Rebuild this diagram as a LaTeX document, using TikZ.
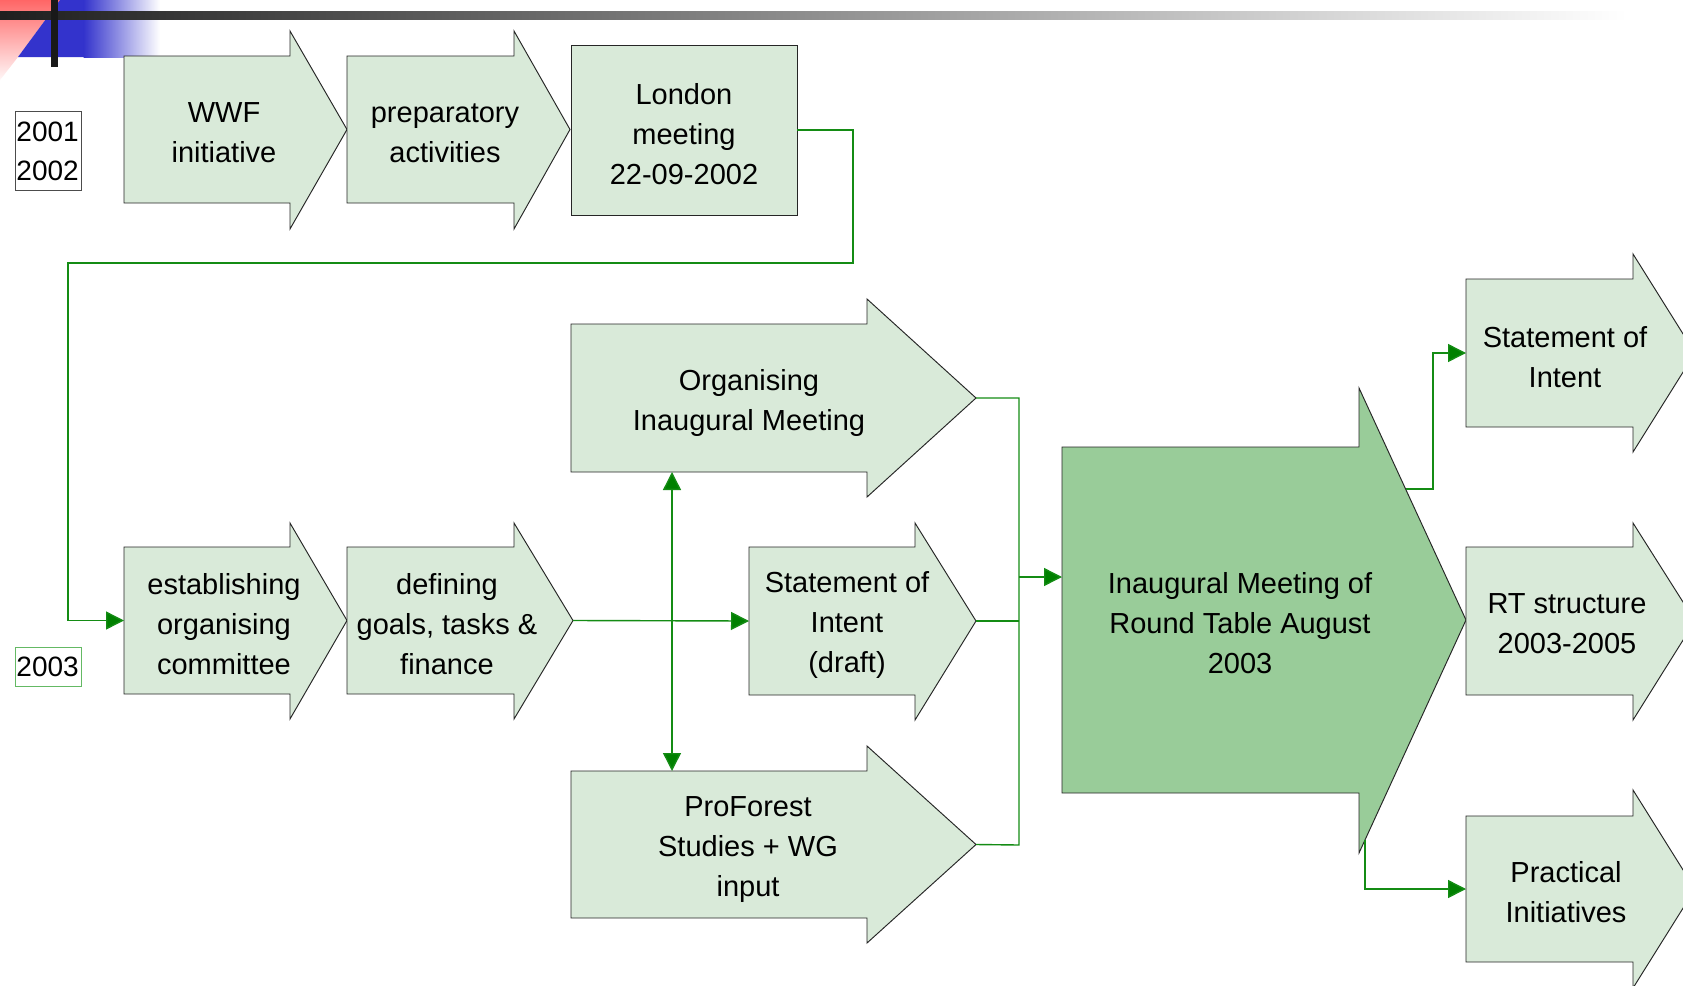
\documentclass[tikz,border=0pt]{standalone}
\usepackage{fontspec}
\setmainfont{Liberation Sans}
\usetikzlibrary{arrows.meta}
\definecolor{boxfill}{RGB}{217,234,217}
\definecolor{bigfill}{RGB}{153,204,153}
\definecolor{conn}{RGB}{20,140,20}
\definecolor{tipgreen}{RGB}{0,128,0}
\definecolor{yearline}{RGB}{100,185,100}
\definecolor{deco blue}{RGB}{51,51,204}
\tikzset{
  shapeline/.style={draw=black!85, line width=0.95pt, line join=miter, fill=boxfill},
  bigshape/.style={shapeline, fill=bigfill},
  lbl/.style={align=center, font=\fontsize{29}{40}\selectfont, inner sep=0pt, text=black},
  conline/.style={draw=conn, line width=1.4pt},
  contip/.style={conline, -{Triangle[length=18pt,width=18pt,fill=tipgreen]}},
  bothtip/.style={conline, {Triangle[length=18pt,width=18pt,fill=tipgreen]}-{Triangle[length=18pt,width=18pt,fill=tipgreen]}},
  yearbox/.style={anchor=north west, line width=0.9pt, inner sep=1pt, align=left,
    text width=64pt, font=\fontsize{28}{39}\selectfont},
}
% #1 name, #2 style, #3 x left, #4 x head base, #5 x tip, #6 body top, #7 body bottom, #8 head top, #9 head bottom
\newcommand\blockarrow[9]{%
  \draw[#2] (#3,#6) -- (#4,#6) -- (#4,#8) -- (#5,{(#6+#7)/2}) -- (#4,#9) -- (#4,#7) -- (#3,#7) -- cycle;
  \coordinate (#1-tail) at (#3,{(#6+#7)/2});
  \coordinate (#1-tip) at (#5,{(#6+#7)/2});
}
\begin{document}
\begin{tikzpicture}[x=1pt,y=-1pt]
\begin{scope}
\clip (0,0) rectangle (1683,985);
\fill[white] (0,0) rectangle (1683,985);
% top-left decoration
\shade[top color=red!60, bottom color=red!3] (0,0) -- (60,0) -- (18,57) -- (0,80) -- cycle;
\fill[deco blue] (60,0) -- (84,0) -- (84,57) -- (18,57) -- cycle;
\shade[left color=deco blue, right color=white] (83.5,0) rectangle (160,57);
\shade[left color=black!88, right color=white] (0,11) rectangle (1627,19);
\fill[black!90] (51,0) rectangle (58,67);

% year boxes
\node[yearbox, draw=black!70, minimum height=79pt] (yr1) at (15,111) {2001\\2002};
\node[yearbox, draw=yearline, minimum height=39pt] (yr2) at (15,647) {2003};

% top row
\blockarrow{wwf}{shapeline}{124}{290}{347}{56}{203}{31}{229}
\node[lbl] (wwf) at (224,133) {WWF\\initiative};
\blockarrow{prep}{shapeline}{347}{514}{570}{56}{203}{31}{229}
\node[lbl] (prep) at (445,133) {preparatory\\activities};
\draw[shapeline] (571,45) rectangle (797,215);
\coordinate (london-east) at (797,130);
\node[lbl] (london) at (684,134) {London\\meeting\\22-09-2002};

% middle row
\blockarrow{est}{shapeline}{124}{290}{347}{547}{694}{523}{719}
\node[lbl] (est) at (224,624) {establishing\\organising\\committee};
\blockarrow{def}{shapeline}{347}{514}{573}{547}{694}{523}{719}
\node[lbl] (def) at (447,624) {defining\\goals, tasks \&\\finance};
\blockarrow{draft}{shapeline}{749}{915}{976}{547}{695}{523}{720}
\node[lbl] (draft) at (847,625) {Statement of\\Intent\\(draft)};
\blockarrow{org}{shapeline}{571}{867}{976}{324}{472}{299}{497}
\node[lbl] (org) at (749,403) {Organising\\Inaugural Meeting};
\blockarrow{pro}{shapeline}{571}{867}{976}{771}{918}{746}{943}
\node[lbl] (pro) at (748,850) {ProForest\\Studies + WG\\input};

% big arrow
\blockarrow{big}{bigshape}{1062}{1359}{1466}{447}{793}{388}{853}
\node[lbl] (big) at (1240,623) {Inaugural Meeting of\\Round Table August\\2003};

% right column
\blockarrow{soi}{shapeline}{1466}{1633}{1695}{279}{427}{254}{452}
\node[lbl] (soi) at (1565,357) {Statement of\\Intent};
\blockarrow{rts}{shapeline}{1466}{1633}{1695}{547}{695}{523}{720}
\node[lbl] (rts) at (1567,624) {RT structure\\2003-2005};
\blockarrow{pra}{shapeline}{1466}{1633}{1695}{816}{962}{790}{988}
\node[lbl] (pra) at (1566,892) {Practical\\Initiatives};

% connectors
\draw[contip] (london-east) -- (853,130) -- (853,263) -- (68,263) |- (est-tail);
\draw[contip] (def-tip) -- (draft-tail);
\coordinate (vtop) at (672,472);
\coordinate (vbot) at (672,771);
\draw[bothtip] (vtop) -- (vbot);
\draw[conline] (org-tip) -- (1019,398) -- (1019,845) -- (pro-tip);
\draw[conline] (draft-tip) -- (1019,621);
\coordinate (bigin) at (1062,577);
\draw[contip] (1019,577) -- (bigin);
\coordinate (bigup) at (1406,489);
\coordinate (bigdn) at (1365,840);
\draw[contip] (bigup) -- (1433,489) |- (soi-tail);
\draw[contip] (bigdn) |- (pra-tail);
\end{scope}
\pgfresetboundingbox
\useasboundingbox (0,0) rectangle (1683,985);
\end{tikzpicture}
\end{document}
